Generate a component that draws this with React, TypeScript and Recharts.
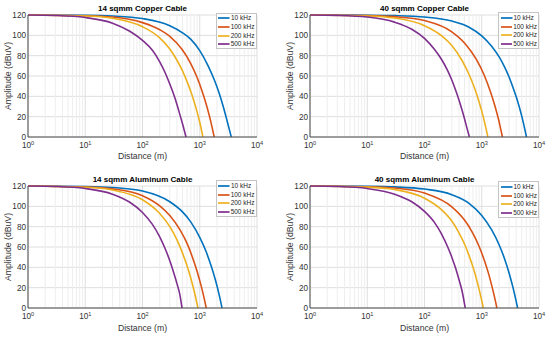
import React from 'react';
import { LineChart, Line, XAxis, YAxis, CartesianGrid, Legend } from 'recharts';

type Pt = [number, number];

const FREQ_LABELS = ['10 kHz', '100 kHz', '200 kHz', '500 kHz'];
const COLORS = ['#0072BD', '#D95319', '#EDB120', '#7E2F8E'];
const X_TICKS = [1, 10, 100, 1000, 10000];
const X_MINOR = [2, 3, 4, 5, 6, 7, 8, 9, 20, 30, 40, 50, 60, 70, 80, 90, 200, 300, 400, 500, 600, 700, 800, 900, 2000, 3000, 4000, 5000, 6000, 7000, 8000, 9000];
const Y_TICKS = [0, 20, 40, 60, 80, 100, 120];
const TITLES = ['14 sqmm Copper Cable', '40 sqmm Copper Cable', '14 sqmm Aluminum Cable', '40 sqmm Aluminum Cable'];

// 14 sqmm copper
const cu14_10k: Pt[] = [[1, 120], [10, 119.7], [30, 119], [100, 116.5], [300, 109.5], [500, 102.5], [700, 96], [1000, 85], [1400, 70], [1800, 56], [2200, 42.5], [2600, 29], [3000, 16], [3300, 7], [3550, 0]];
const cu14_100k: Pt[] = [[1, 120], [10, 119.3], [30, 118], [100, 112.5], [200, 105.5], [300, 99], [500, 85.5], [700, 72], [900, 58.5], [1100, 45], [1300, 32], [1500, 19], [1650, 9], [1790, 0]];
const cu14_200k: Pt[] = [[1, 120], [10, 119], [30, 116.8], [100, 108.5], [200, 97.5], [300, 86.5], [400, 75.5], [500, 65], [600, 54.5], [700, 44.5], [800, 34.5], [900, 24.5], [1000, 14.5], [1135, 0]];
const cu14_500k: Pt[] = [[1, 120], [3, 119.5], [10, 117.5], [30, 112], [60, 104], [100, 95], [150, 85], [200, 74], [250, 63], [300, 52], [350, 42], [400, 32], [450, 22], [500, 13], [575, 0]];

// 40 sqmm copper
const cu40_10k: Pt[] = [[1, 120], [10, 119.8], [30, 119.4], [100, 118], [300, 114], [600, 108], [1000, 99.5], [1500, 89], [2000, 79], [2500, 69], [3000, 59], [3500, 49], [4000, 39.5], [4500, 30], [5000, 20.5], [5500, 10.5], [6050, 0]];
const cu40_100k: Pt[] = [[1, 120], [10, 119.5], [30, 118.4], [100, 114.5], [300, 103.5], [500, 92.5], [800, 76.5], [1100, 61], [1400, 45.5], [1700, 30.5], [2000, 15.5], [2150, 7.5], [2300, 0]];
const cu40_200k: Pt[] = [[1, 120], [10, 119], [30, 117], [100, 109.5], [200, 99.5], [300, 90], [450, 75.5], [600, 61.5], [750, 48], [900, 34.5], [1050, 21], [1180, 9], [1280, 0]];
const cu40_500k: Pt[] = [[1, 120], [3, 119.6], [10, 118], [30, 113], [60, 106], [100, 97], [150, 86], [200, 76], [250, 66], [300, 56], [350, 46], [400, 36.5], [450, 27], [500, 18], [550, 9], [610, 0]];

// 14 sqmm aluminum
const al14_10k: Pt[] = [[1, 120], [10, 119.5], [30, 118.5], [100, 115], [300, 104.5], [500, 94.5], [700, 84.5], [1000, 69.5], [1300, 55], [1600, 40.5], [1900, 26.5], [2200, 12.2], [2450, 0]];
const al14_100k: Pt[] = [[1, 120], [10, 119], [30, 117.2], [100, 110.5], [200, 100.5], [300, 91], [450, 77], [600, 63.5], [750, 49.5], [900, 36], [1050, 22.5], [1200, 9], [1300, 0]];
const al14_200k: Pt[] = [[1, 120], [10, 118.7], [30, 116], [100, 106.5], [200, 93], [300, 80], [400, 67], [500, 54], [600, 41.5], [700, 29], [800, 16.5], [930, 0]];
const al14_500k: Pt[] = [[1, 120], [3, 119.5], [10, 117.5], [30, 112], [60, 104], [100, 94], [150, 82], [200, 70], [250, 58], [300, 46.5], [350, 35], [400, 24], [450, 13], [490, 0]];

// 40 sqmm aluminum
const al40_10k: Pt[] = [[1, 120], [10, 119.7], [30, 119.1], [100, 117], [300, 111.5], [600, 103], [1000, 91], [1500, 76.5], [2000, 62.5], [2500, 48.5], [3000, 34.5], [3500, 20.5], [3900, 9.2], [4230, 0]];
const al40_100k: Pt[] = [[1, 120], [10, 119.3], [30, 118], [100, 113], [300, 99.5], [500, 86.5], [700, 73.5], [900, 60.5], [1100, 47.5], [1300, 34.8], [1500, 21.8], [1700, 9], [1840, 0]];
const al40_200k: Pt[] = [[1, 120], [10, 118.9], [30, 116.5], [100, 108], [200, 96.5], [300, 85.5], [400, 74], [500, 63], [600, 51.5], [700, 40.5], [800, 29.5], [900, 18.3], [1000, 7.2], [1065, 0]];
const al40_500k: Pt[] = [[1, 120], [3, 119.5], [10, 117.5], [30, 112], [60, 104.5], [100, 95], [150, 84], [200, 72.5], [250, 61], [300, 50], [350, 39], [400, 28], [450, 17.5], [515, 0]];

const FONT = '"Liberation Sans", Arial, Helvetica, sans-serif';
const ALL_X = [...X_TICKS, ...X_MINOR].sort((a, b) => a - b);

const toRows = (pts: Pt[]) => pts.map(([d, a]) => ({ d, a }));

const XTick = (props: any) => {
  const { x, y, payload } = props;
  const v = payload.value;
  if (!X_TICKS.includes(v)) return <g />;
  const exp = Math.round(Math.log10(v));
  return (
    <text x={x} y={y + 11} textAnchor="middle" fontSize={8.2} fill="#333" style={{ fontFamily: FONT }}>
      10<tspan dy={-3.5} fontSize={5.6}>{exp}</tspan>
    </text>
  );
};

const LegendBox = () => (
  <div style={{ boxSizing: 'border-box', width: 41, height: 36.5, border: '1px solid #c4c4c4', background: '#fff', padding: '0.5px 1px 0 1.5px', fontFamily: FONT }}>
    {FREQ_LABELS.map((label, i) => (
      <div key={label} style={{ display: 'flex', alignItems: 'center', height: 8.7 }}>
        <svg width={12} height={4} style={{ display: 'block', marginRight: 1 }}>
          <line x1={0} y1={2} x2={11.5} y2={2} stroke={COLORS[i]} strokeWidth={1.7} />
        </svg>
        <span style={{ fontSize: 6.5, color: '#262626', whiteSpace: 'nowrap', lineHeight: '8px' }}>{label}</span>
      </div>
    ))}
  </div>
);

type PanelProps = {
  title: string;
  series: Pt[][];
  left: number;
  top: number;
  width: number;
  height: number;
  mTop: number;
  yW: number;
  mRight: number;
  xH: number;
  xLabelDy: number;
  legendLeft: number;
  legendTop: number;
};

const Panel = (p: PanelProps) => {
  const plotLeft = p.yW;
  const plotW = p.width - p.yW - p.mRight;
  return (
    <div style={{ position: 'absolute', left: p.left, top: p.top, width: p.width, height: p.height }}>
      <div style={{ position: 'absolute', left: plotLeft, width: plotW, top: p.mTop - 3 - 7.8, lineHeight: '10px', fontSize: 8, fontWeight: 'bold', textAlign: 'center', fontFamily: FONT, color: '#000', whiteSpace: 'nowrap', zIndex: 2 }}>
        {p.title}
      </div>
      <LineChart width={p.width} height={p.height} margin={{ top: p.mTop, right: p.mRight, left: 0, bottom: 0 }} style={{ fontFamily: FONT }}>
        <CartesianGrid
          horizontal={(g: any) => <line key={g.key} x1={g.x1} y1={g.y1} x2={g.x2} y2={g.y2} stroke="#dedede" strokeWidth={1} />}
          vertical={(g: any) => {
            const v = ALL_X[g.index];
            const major = X_TICKS.includes(v);
            return <line key={g.key} x1={g.x1} y1={g.y1} x2={g.x2} y2={g.y2} stroke={major ? '#dedede' : '#eeeeee'} strokeWidth={1} />;
          }}
        />
        <XAxis
          dataKey="d"
          type="number"
          scale="log"
          domain={[1, 10000]}
          ticks={ALL_X}
          allowDataOverflow
          height={p.xH}
          tickSize={0}
          tickMargin={0}
          tickLine={false}
          interval={0}
          axisLine={{ stroke: '#4a4a4a' }}
          tick={<XTick />}
          label={{
            value: 'Distance (m)',
            content: (lp: any) => {
              const vb = lp.viewBox || {};
              return (
                <text x={vb.x + vb.width / 2} y={vb.y + p.xLabelDy} textAnchor="middle" fontSize={8.7} fill="#333" style={{ fontFamily: FONT }}>
                  Distance (m)
                </text>
              );
            },
          }}
        />
        <YAxis
          type="number"
          domain={[0, 120]}
          ticks={Y_TICKS}
          width={p.yW}
          tickSize={0}
          tickMargin={2}
          tickLine={false}
          interval={0}
          axisLine={{ stroke: '#4a4a4a' }}
          tick={{ fontSize: 8.2, fill: '#333', fontFamily: FONT }}
          label={{
            value: 'Amplitude (dBuV)',
            content: (lp: any) => {
              const vb = lp.viewBox || {};
              const cx = vb.x + vb.width - 17.5;
              const cy = vb.y + vb.height / 2;
              return (
                <text x={cx} y={cy} transform={`rotate(-90 ${cx} ${cy})`} textAnchor="middle" fontSize={8.7} fill="#333" style={{ fontFamily: FONT }}>
                  Amplitude (dBuV)
                </text>
              );
            },
          }}
        />
        {p.series.map((s, i) => (
          <Line
            key={FREQ_LABELS[i]}
            data={toRows(s)}
            dataKey="a"
            name={FREQ_LABELS[i]}
            type="monotone"
            stroke={COLORS[i]}
            strokeWidth={1.6}
            dot={false}
            activeDot={false}
            isAnimationActive={false}
          />
        ))}
        <Legend
          layout="vertical"
          align="center"
          verticalAlign="middle"
          content={<LegendBox />}
          wrapperStyle={{ left: p.legendLeft, top: p.legendTop, width: 41, height: 37, right: 'auto', bottom: 'auto' }}
        />
      </LineChart>
    </div>
  );
};

export default function App() {
  return (
    <div style={{ position: 'absolute', left: 0, top: 0, width: 550, height: 337, background: '#fff', fontFamily: FONT }}>
      <Panel title={TITLES[0]} series={[cu14_10k, cu14_100k, cu14_200k, cu14_500k]} left={0} top={0} width={275} height={168} mTop={15} yW={28} mRight={18} xH={31} xLabelDy={21.5} legendLeft={215.5} legendTop={12.5} />
      <Panel title={TITLES[1]} series={[cu40_10k, cu40_100k, cu40_200k, cu40_500k]} left={275} top={0} width={275} height={168} mTop={15} yW={35} mRight={11} xH={31} xLabelDy={21.5} legendLeft={223} legendTop={12} />
      <Panel title={TITLES[2]} series={[al14_10k, al14_100k, al14_200k, al14_500k]} left={0} top={168} width={275} height={169} mTop={18} yW={28} mRight={18} xH={29} xLabelDy={23} legendLeft={215.5} legendTop={12} />
      <Panel title={TITLES[3]} series={[al40_10k, al40_100k, al40_200k, al40_500k]} left={275} top={168} width={275} height={169} mTop={18} yW={35} mRight={11} xH={29} xLabelDy={23} legendLeft={223} legendTop={13} />
    </div>
  );
}
